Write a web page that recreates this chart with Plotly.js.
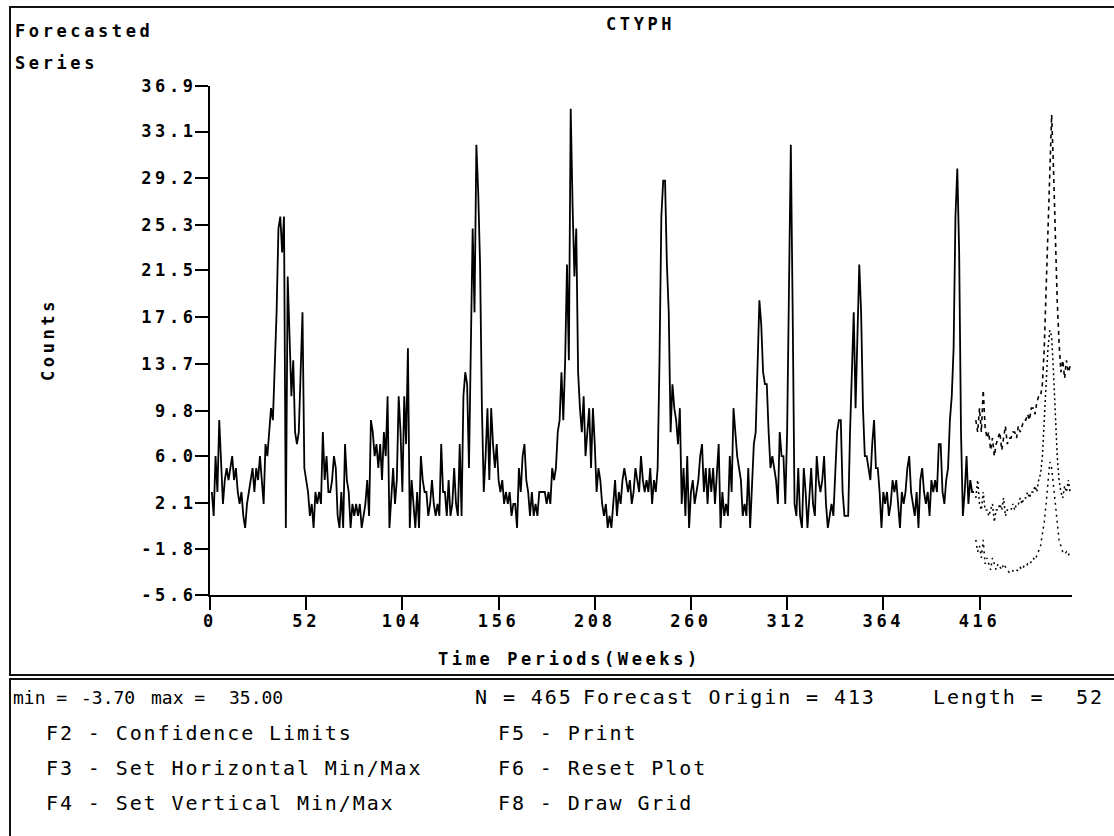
<!DOCTYPE html>
<html><head><meta charset="utf-8">
<script src="https://cdn.plot.ly/plotly-3.0.1.min.js"></script>
<style>
html,body{margin:0;padding:0;background:#fff;}
#chart{width:1114px;height:836px;}
text[style*="font-size: 17px"]{letter-spacing:3.6px;}
text[style*="font-size: 20px"]{letter-spacing:1.9px;}
text[style*="font-size: 18px"]{letter-spacing:0px;}
</style></head>
<body><div id="chart"></div>
<script>
// ---- data ----
const seriesName = "CTYPH";
const forecastOrigin = 413;
const forecastLength = 52;
const observed = [
 3,1,6,3,9,5,2,4,5,4,
 5,6,4,5,3,2,3,1,0,2,
 3,4,5,3,5,4,6,4,2,7,
 6,8,10,9,13,18,25,26,23,26,
 0,21,16,11,14,8,7,8,13,18,
 5,4,3,1,2,0,3,2,3,2,
 8,4,6,3,3,4,6,5,1,0,
 3,0,7,4,3,0,2,1,2,1,
 2,0,1,2,4,1,9,8,6,7,
 5,7,4,8,6,11,0,3,5,2,
 4,11,8,3,11,7,15,0,4,2,
 0,3,0,6,4,3,3,1,2,4,
 2,1,2,1,7,3,3,1,4,1,
 2,5,2,1,7,1,11,13,12,5,
 15,25,18,32,28,22,10,3,6,10,
 4,10,7,5,7,4,3,4,2,3,
 2,3,1,2,2,0,5,3,6,7,
 4,3,1,3,1,2,1,3,3,3,
 3,2,3,2,5,4,5,8,9,13,
 9,14,22,14,35,27,21,25,13,10,
 8,11,6,8,10,5,10,7,3,5,
 4,2,1,2,0,1,0,2,4,1,
 3,2,4,5,4,3,4,2,3,5,
 4,3,6,4,3,4,3,5,2,4,
 3,5,14,26,29,29,22,18,8,12,
 10,9,7,10,2,5,1,6,0,3,
 4,2,3,4,6,7,3,5,2,5,
 3,5,2,5,7,0,3,1,2,1,
 6,3,10,8,6,5,4,1,2,1,
 5,0,4,7,8,14,19,17,13,12,
 12,8,5,6,5,4,2,8,6,6,
 2,8,20,32,18,2,1,5,1,0,
 5,3,0,3,5,2,1,6,4,3,
 4,6,2,0,1,2,1,4,8,9,
 9,3,1,1,1,8,14,18,10,16,
 22,18,10,6,6,5,4,7,9,5,
 5,3,0,3,2,3,1,2,4,3,
 4,2,0,3,2,3,5,6,3,2,
 1,3,0,4,5,3,2,3,1,4,
 3,4,3,7,7,3,2,4,5,9,
 11,15,26,30,23,8,1,3,6,2,
 4,3,3
];
const upperLimit = [
 9,8,10,8,11.5,8.5,7.5,8,6.5,7.5,
 6,7,7.5,8,6.5,7.5,8.5,7,7.5,7.5,
 8,8,7.5,8.5,8,8.5,9,9,9.5,9,
 10,10,9.5,10.5,11,11,12,15,20,26,
 31,34.5,30,24,19,15.5,13,14,12.5,14,
 13,13.5
];
const forecast = [
 2.5,4,2,1.5,3,1.5,1.5,1,1.5,2,
 0.5,1.5,1.5,2,1.5,2.5,1,1.5,1.5,1.5,
 2,1.5,2,2,2.5,2,2.5,2.5,3,2.5,
 3,3,3.5,3,4,4.5,6,9,12,15,
 16.5,16,13,9,6,4,3,2.5,3.5,3,
 4,3
];
const lowerLimit = [
 -1,-2,-1.5,-2.5,-1,-3,-2.5,-3,-3.5,-2.5,
 -3,-3.5,-3,-3.2,-3.5,-3,-3.3,-3.5,-3.7,-3.5,
 -3.6,-3.4,-3.5,-3.6,-3.3,-3.5,-3.2,-3.3,-3,-3.1,
 -2.8,-2.5,-2.7,-2.3,-2,-1.5,-0.5,0.5,2,4,
 5.5,5,3.5,1.5,0,-1,-1.5,-2,-2.2,-2,
 -2.3,-2
];
const xTickVals = [0,52,104,156,208,260,312,364,416];
const yTickText = ["-5.6","-1.8","2.1","6.0","9.8","13.7","17.6","21.5","25.3","29.2","33.1","36.9"];
const yMin = -5.6, yMax = 36.9, xMax = 466;
const statsMin = "-3.70", statsMax = "35.00", statsN = 465;

// ---- layout helpers ----
const PL=210, PR=1072, PT=86, PB=595;
const px = x => (x-PL)/(PR-PL);
const py = y => (PB-y)/(PB-PT);

const obsX = observed.map((_,i)=>i+1);
const fcX = upperLimit.map((_,i)=>forecastOrigin+1+i);

const topFont = {family:"DejaVu Sans Mono", size:17, weight:"bold", color:"#000"};
const botFont = {family:"DejaVu Sans Mono", size:20, color:"#000"};
const numFont = {family:"DejaVu Sans Mono", size:18, color:"#000"};

const traces = [
 {x:obsX, y:observed, type:"scatter", mode:"lines", line:{color:"#000", width:1.8}, hoverinfo:"skip"},
 {x:fcX, y:upperLimit, type:"scatter", mode:"lines", line:{color:"#000", width:1.6, dash:"4px,4px"}, hoverinfo:"skip"},
 {x:fcX, y:forecast, type:"scatter", mode:"lines", line:{color:"#000", width:1.5, dash:"2px,3px"}, hoverinfo:"skip"},
 {x:fcX, y:lowerLimit, type:"scatter", mode:"lines", line:{color:"#000", width:1.5, dash:"2px,4px"}, hoverinfo:"skip"}
];

function ann(text, x, y, font, xanchor, extra){
  return Object.assign({text:text, xref:"paper", yref:"paper", x:px(x), y:py(y),
    xanchor:xanchor||"left", yanchor:"middle", showarrow:false, font:font, borderpad:0}, extra||{});
}

const annotations = [
 ann(seriesName, 640, 24, topFont, "center"),
 ann("Forecasted", 14, 31, topFont),
 ann("Series", 14, 63, topFont),
 ann("Counts", 48, 340, topFont, "center", {textangle:-90}),
 ann("Time Periods(Weeks)", 569, 659, topFont, "center"),
 ann("min =", 12, 697, numFont),
 ann(statsMin, 80, 697, numFont),
 ann("max =", 150, 697, numFont),
 ann(statsMax, 228, 697, numFont),
 ann("N = " + statsN, 474, 697, botFont),
 ann("Forecast Origin = " + forecastOrigin, 582, 697, botFont),
 ann("Length =", 932, 697, botFont),
 ann(String(forecastLength), 1075, 697, botFont),
 ann("F2 - Confidence Limits", 45, 733, botFont),
 ann("F3 - Set Horizontal Min/Max", 45, 768, botFont),
 ann("F4 - Set Vertical Min/Max", 45, 803, botFont),
 ann("F5 - Print", 497, 733, botFont),
 ann("F6 - Reset Plot", 497, 768, botFont),
 ann("F8 - Draw Grid", 497, 803, botFont)
];

const shapes = [
 {type:"rect", xref:"paper", yref:"paper", x0:px(10), x1:px(1125), y0:py(7), y1:py(675), line:{color:"#111", width:2}},
 {type:"rect", xref:"paper", yref:"paper", x0:px(10), x1:px(1125), y0:py(679), y1:py(845), line:{color:"#111", width:2}}
];

const layout = {
 width:1114, height:836, autosize:false,
 margin:{l:PL, r:1114-PR, t:PT, b:836-PB, pad:0},
 paper_bgcolor:"#fff", plot_bgcolor:"#fff",
 showlegend:false, hovermode:false,
 xaxis:{range:[0,xMax], tickmode:"array", tickvals:xTickVals, ticktext:xTickVals.map(String),
   ticks:"outside", ticklen:13, tickwidth:2, tickcolor:"#000", showline:true, linewidth:2, linecolor:"#000",
   showgrid:false, zeroline:false, tickfont:topFont, ticklabelstandoff:-3, fixedrange:true},
 yaxis:{range:[yMin,yMax], tickmode:"array", tickvals:yTickText.map(Number), ticktext:yTickText,
   ticks:"outside", ticklen:13, tickwidth:2, tickcolor:"#000", showline:true, linewidth:2, linecolor:"#000",
   showgrid:false, zeroline:false, tickfont:topFont, ticklabelstandoff:-5, fixedrange:true},
 annotations:annotations,
 shapes:shapes
};

Plotly.newPlot("chart", traces, layout, {displayModeBar:false, staticPlot:true});
</script></body></html>
